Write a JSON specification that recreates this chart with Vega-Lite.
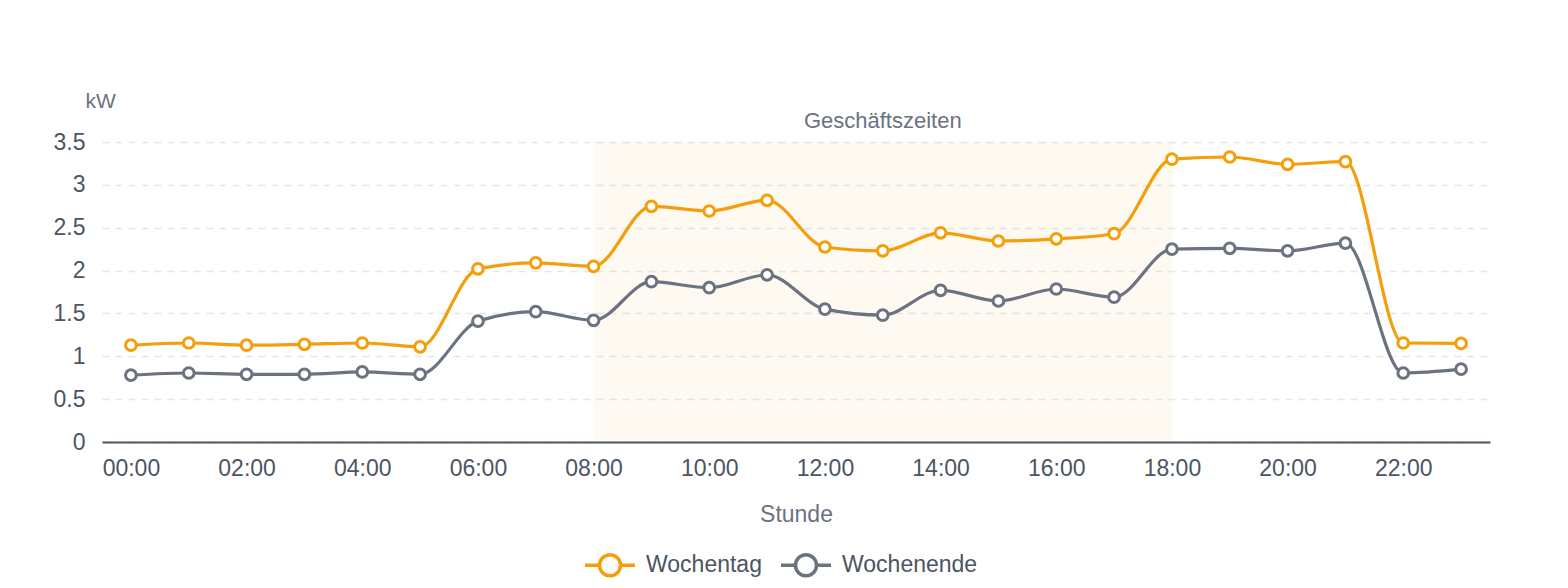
{
  "$schema": "https://vega.github.io/schema/vega-lite/v6.json",
  "description": "Stromverbrauch pro Stunde, Wochentag vs. Wochenende",
  "width": 1388,
  "height": 300,
  "autosize": "none",
  "padding": {"left": 102, "top": 142, "right": 78, "bottom": 146},
  "background": "white",
  "config": {
    "view": {"stroke": null},
    "font": "Liberation Sans",
    "axis": {"labelFont": "Liberation Sans", "titleFont": "Liberation Sans"},
    "legend": {"labelFont": "Liberation Sans"}
  },
  "datasets": {
    "verbrauch": [
      {"hour": 0, "typ": "Wochentag", "kw": 1.13},
      {"hour": 1, "typ": "Wochentag", "kw": 1.155},
      {"hour": 2, "typ": "Wochentag", "kw": 1.13},
      {"hour": 3, "typ": "Wochentag", "kw": 1.14},
      {"hour": 4, "typ": "Wochentag", "kw": 1.155},
      {"hour": 5, "typ": "Wochentag", "kw": 1.11},
      {"hour": 6, "typ": "Wochentag", "kw": 2.02},
      {"hour": 7, "typ": "Wochentag", "kw": 2.09},
      {"hour": 8, "typ": "Wochentag", "kw": 2.05},
      {"hour": 9, "typ": "Wochentag", "kw": 2.75},
      {"hour": 10, "typ": "Wochentag", "kw": 2.695},
      {"hour": 11, "typ": "Wochentag", "kw": 2.82},
      {"hour": 12, "typ": "Wochentag", "kw": 2.275},
      {"hour": 13, "typ": "Wochentag", "kw": 2.23},
      {"hour": 14, "typ": "Wochentag", "kw": 2.44},
      {"hour": 15, "typ": "Wochentag", "kw": 2.345},
      {"hour": 16, "typ": "Wochentag", "kw": 2.37},
      {"hour": 17, "typ": "Wochentag", "kw": 2.43},
      {"hour": 18, "typ": "Wochentag", "kw": 3.3},
      {"hour": 19, "typ": "Wochentag", "kw": 3.325},
      {"hour": 20, "typ": "Wochentag", "kw": 3.24},
      {"hour": 21, "typ": "Wochentag", "kw": 3.27},
      {"hour": 22, "typ": "Wochentag", "kw": 1.155},
      {"hour": 23, "typ": "Wochentag", "kw": 1.15},
      {"hour": 0, "typ": "Wochenende", "kw": 0.78},
      {"hour": 1, "typ": "Wochenende", "kw": 0.805},
      {"hour": 2, "typ": "Wochenende", "kw": 0.79},
      {"hour": 3, "typ": "Wochenende", "kw": 0.79},
      {"hour": 4, "typ": "Wochenende", "kw": 0.817},
      {"hour": 5, "typ": "Wochenende", "kw": 0.79},
      {"hour": 6, "typ": "Wochenende", "kw": 1.41},
      {"hour": 7, "typ": "Wochenende", "kw": 1.52},
      {"hour": 8, "typ": "Wochenende", "kw": 1.42},
      {"hour": 9, "typ": "Wochenende", "kw": 1.87},
      {"hour": 10, "typ": "Wochenende", "kw": 1.8},
      {"hour": 11, "typ": "Wochenende", "kw": 1.95},
      {"hour": 12, "typ": "Wochenende", "kw": 1.55},
      {"hour": 13, "typ": "Wochenende", "kw": 1.48},
      {"hour": 14, "typ": "Wochenende", "kw": 1.77},
      {"hour": 15, "typ": "Wochenende", "kw": 1.645},
      {"hour": 16, "typ": "Wochenende", "kw": 1.785},
      {"hour": 17, "typ": "Wochenende", "kw": 1.69},
      {"hour": 18, "typ": "Wochenende", "kw": 2.25},
      {"hour": 19, "typ": "Wochenende", "kw": 2.26},
      {"hour": 20, "typ": "Wochenende", "kw": 2.23},
      {"hour": 21, "typ": "Wochenende", "kw": 2.32},
      {"hour": 22, "typ": "Wochenende", "kw": 0.805},
      {"hour": 23, "typ": "Wochenende", "kw": 0.85}
    ],
    "geschaeftszeiten": [
      {"von": 8, "bis": 18, "unten": 0, "oben": 3.5, "mitte": 13, "label": "Geschäftszeiten"}
    ]
  },
  "layer": [
    {
      "data": {"name": "geschaeftszeiten"},
      "mark": {"type": "rect", "color": "#f59e0b", "opacity": 0.055},
      "encoding": {
        "x": {"field": "von", "type": "quantitative"},
        "x2": {"field": "bis"},
        "y": {"field": "unten", "type": "quantitative"},
        "y2": {"field": "oben"}
      }
    },
    {
      "data": {"name": "geschaeftszeiten"},
      "mark": {"type": "text", "color": "#6b7280", "fontSize": 22, "dy": -21, "baseline": "middle", "align": "center"},
      "encoding": {
        "x": {"field": "mitte", "type": "quantitative"},
        "y": {"field": "oben", "type": "quantitative"},
        "text": {"field": "label"}
      }
    },
    {
      "data": {"name": "verbrauch"},
      "mark": {"type": "line", "interpolate": "monotone", "strokeWidth": 3.2},
      "encoding": {
        "x": {
          "field": "hour",
          "type": "quantitative",
          "scale": {"domain": [-0.5, 23.5], "nice": false, "zero": false},
          "axis": {
            "title": "Stunde",
            "values": [0, 2, 4, 6, 8, 10, 12, 14, 16, 18, 20, 22],
            "labelExpr": "(datum.value < 10 ? '0' : '') + datum.value + ':00'",
            "grid": false,
            "ticks": false,
            "domainColor": "#4b5563",
            "domainWidth": 2,
            "labelColor": "#4b5563",
            "labelFontSize": 23,
            "labelPadding": 15,
            "labelFlush": false,
            "titleColor": "#6b7280",
            "titleFontSize": 23,
            "titleFontWeight": "normal",
            "titlePadding": 23
          }
        },
        "y": {
          "field": "kw",
          "type": "quantitative",
          "scale": {"domain": [0, 3.5], "nice": false},
          "axis": {
            "title": "kW",
            "values": [0, 0.5, 1, 1.5, 2, 2.5, 3, 3.5],
            "format": "~g",
            "domain": false,
            "ticks": false,
            "gridColor": "#e5e7eb",
            "gridDash": [7, 6],
            "gridWidth": 1.5,
            "labelColor": "#4b5563",
            "labelFontSize": 23,
            "labelPadding": 17,
            "titleColor": "#6b7280",
            "titleFontSize": 21,
            "titleFontWeight": "normal",
            "titleAngle": 0,
            "titleAlign": "left",
            "titleBaseline": "middle",
            "titleX": -17,
            "titleY": -41
          }
        },
        "color": {
          "field": "typ",
          "type": "nominal",
          "scale": {"domain": ["Wochentag", "Wochenende"], "range": ["#f59e0b", "#6b7280"]},
          "legend": {
            "title": null,
            "orient": "none",
            "direction": "horizontal",
            "legendX": 481,
            "legendY": 396,
            "symbolType": "M-1,0L-0.42,0M0.42,0L1,0M-0.42,0A0.42,0.42 0 1,1 0.42,0A0.42,0.42 0 1,1 -0.42,0Z",
            "symbolSize": 2500,
            "symbolStrokeWidth": 3.5,
            "symbolFillColor": "white",
            "labelFontSize": 23,
            "labelColor": "#4b5563",
            "labelOffset": 9,
            "columnPadding": 12
          }
        }
      }
    },
    {
      "data": {"name": "verbrauch"},
      "mark": {"type": "point", "filled": true, "fill": "white", "size": 115, "strokeWidth": 3, "opacity": 1, "shape": "circle"},
      "encoding": {
        "x": {"field": "hour", "type": "quantitative"},
        "y": {"field": "kw", "type": "quantitative"},
        "stroke": {"field": "typ", "type": "nominal", "scale": {"domain": ["Wochentag", "Wochenende"], "range": ["#f59e0b", "#6b7280"]}, "legend": null}
      }
    }
  ]
}
